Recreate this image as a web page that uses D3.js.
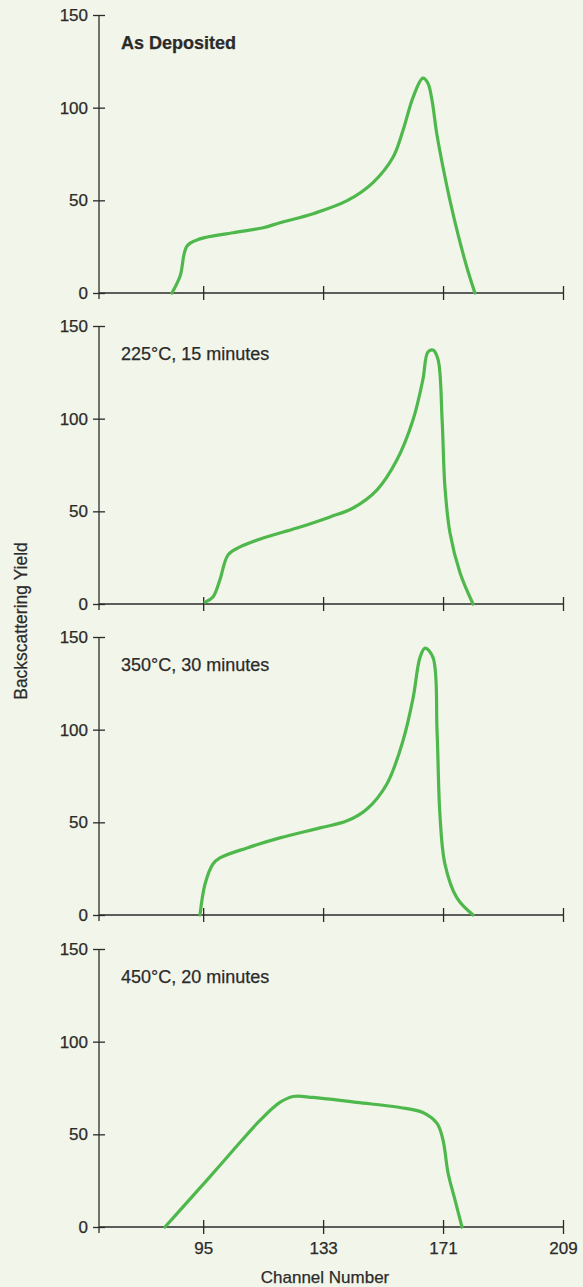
<!DOCTYPE html>
<html>
<head>
<meta charset="utf-8">
<script src="https://cdn.jsdelivr.net/npm/d3@7"></script>
<style>
  body { margin: 0; background: #f2f5e9; }
  svg { display: block; }
  text { font-family: "Liberation Sans", Arial, sans-serif; fill: #2b2b2b; stroke: #2b2b2b; stroke-width: 0.25px; }
</style>
</head>
<body>
<svg width="583" height="1287"></svg>
<script>
// channel number vs backscattering yield
const titles = ["As Deposited", "225\u00B0C, 15 minutes", "350\u00B0C, 30 minutes", "450\u00B0C, 20 minutes"];

const asDepChannel = [85.1, 87.7, 89.9, 94, 104.5, 114, 119.3, 129.8, 140.6, 148.8, 155.1, 158.3, 161.5, 164.6, 166.2, 167.5, 169, 171, 173.2, 175.7, 178.6, 181.1];
const asDepYield   = [0, 9.2, 25.4, 29.2, 32.5, 35.2, 37.9, 42.8, 49.8, 59.6, 73.1, 87.7, 105.6, 115.9, 113.2, 104, 86, 67.7, 49.8, 31.9, 13.5, 0];

const t225Channel = [95.6, 98.1, 100.3, 102.9, 106.7, 114, 124.7, 135.2, 142.5, 150.1, 156.4, 161.5, 164.6, 166.2, 167.8, 169.4, 170.7, 171.6, 173.2, 176.4, 180.5];
const t225Yield   = [1, 3.8, 13, 26.5, 30.8, 35.6, 41, 47, 51.8, 61.6, 77.8, 99.4, 121, 136, 137, 132, 99.4, 63, 38.3, 16.7, 0];

const t350Channel = [94, 95.6, 98.1, 100.3, 108.9, 119.3, 132, 140.6, 146.9, 153.2, 158.3, 161.5, 163.7, 165.3, 167.8, 169.1, 170, 171.6, 175.4, 180.5];
const t350Yield   = [0, 16.7, 27.5, 30.8, 36.2, 41.6, 47, 50.8, 57.2, 70.7, 94, 117, 139, 144, 139, 99, 54.5, 27.5, 9.2, 0];

const t450Channel = [82.9, 87.7, 96.2, 104.5, 113, 119.3, 123.5, 129.8, 143.7, 157.4, 164.6, 169.1, 171, 172.6, 174.8, 177];
const t450Yield   = [0, 9.1, 25.3, 41.4, 57.5, 67.2, 70.4, 69.9, 67.2, 64.5, 61.8, 55.9, 46.8, 29, 14.5, 0];

const xTicks = [95, 133, 171, 209];
const yTicks = [0, 50, 100, 150];

const series = [
  [asDepChannel, asDepYield],
  [t225Channel, t225Yield],
  [t350Channel, t350Yield],
  [t450Channel, t450Yield]
];

const svg = d3.select('svg');
const ink = '#2b2b2b';

const panelTops = [15, 326, 637, 949];
const panelH = 278;

// x scale shared by every panel
const x = d3.scaleLinear()
    .domain([62, 209])
    .range([99, 563]);

const line = d3.line()
    .x(d => x(d[0]))
    .curve(d3.curveCatmullRom.alpha(0.5));

series.forEach((s, i) => {
    const top = panelTops[i];
    const y = d3.scaleLinear()
        .domain([0, 150])
        .range([top + panelH, top]);

    const g = svg.append('g');

    // y axis
    const yAxis = d3.axisLeft(y)
        .tickValues(yTicks)
        .tickSizeInner(6)
        .tickSizeOuter(0)
        .tickPadding(5);
    const ya = g.append('g')
        .attr('transform', 'translate(99,0)')
        .call(yAxis);
    ya.select('.domain').attr('d', 'M0,' + y(150) + 'V' + (y(0) + 6));
    ya.selectAll('.tick line').attr('x1', -6).attr('x2', 6);

    // x axis
    const xAxis = d3.axisBottom(x)
        .tickValues(xTicks)
        .tickSizeInner(7)
        .tickSizeOuter(0)
        .tickPadding(8);
    if (i < 3) xAxis.tickFormat('');
    const xa = g.append('g')
        .attr('transform', 'translate(0,' + y(0) + ')')
        .call(xAxis);
    xa.select('.domain').attr('d', 'M' + x(62) + ',0H' + x(209));
    xa.selectAll('.tick line').attr('y1', -7).attr('y2', 7);

    g.selectAll('.domain, .tick line')
        .attr('stroke', ink)
        .attr('stroke-width', 1.3);
    g.selectAll('.tick text')
        .attr('fill', ink)
        .style('font-size', '17px');

    // title of panel
    g.append('text')
        .attr('x', 121)
        .attr('y', top + 34)
        .style('font-size', '18px')
        .style('font-weight', i === 0 ? 'bold' : 'normal')
        .text(titles[i]);

    // curve
    const pts = d3.zip(s[0], s[1]);
    line.y(d => y(d[1]));
    g.append('path')
        .datum(pts)
        .attr('fill', 'none')
        .attr('stroke', '#4fb84c')
        .attr('stroke-width', 3.2)
        .attr('stroke-linejoin', 'round')
        .attr('stroke-linecap', 'round')
        .attr('d', line);
});

// axis titles
svg.append('text')
    .attr('transform', 'translate(27,621) rotate(-90)')
    .attr('text-anchor', 'middle')
    .style('font-size', '17.5px')
    .text('Backscattering Yield');

svg.append('text')
    .attr('x', 325)
    .attr('y', 1283)
    .attr('text-anchor', 'middle')
    .style('font-size', '17px')
    .text('Channel Number');
</script>
</body>
</html>
